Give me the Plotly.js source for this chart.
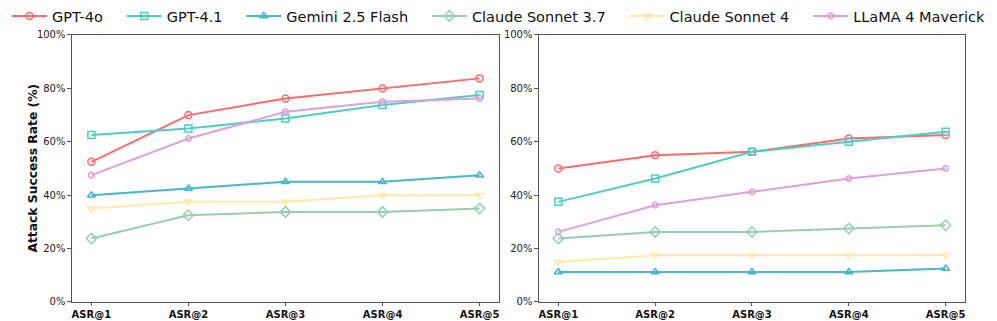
<!DOCTYPE html>
<html>
<head>
<meta charset="utf-8">
<script src="https://cdn.plot.ly/plotly-3.0.1.min.js"></script>
<style>
  html, body { margin: 0; padding: 0; background: #fff; }
  #chart { width: 997px; height: 321px; }
</style>
</head>
<body>
<div id="chart"></div>
<script>
// Attack success rate at k attempts, two settings side by side
const categories = ['ASR@1', 'ASR@2', 'ASR@3', 'ASR@4', 'ASR@5'];
const models = ['GPT-4o', 'GPT-4.1', 'Gemini 2.5 Flash', 'Claude Sonnet 3.7', 'Claude Sonnet 4', 'LLaMA 4 Maverick'];

// left panel
const leftGpt4o   = [52.5, 70, 76.25, 80, 83.75];
const leftGpt41   = [62.5, 65, 68.75, 73.75, 77.5];
const leftGemini  = [40, 42.5, 45, 45, 47.5];
const leftClaude37 = [23.75, 32.5, 33.75, 33.75, 35];
const leftClaude4 = [35, 37.5, 37.5, 40, 40];
const leftLlama   = [47.5, 61.25, 71.25, 75, 76.25];

// right panel
const rightGpt4o   = [50, 55, 56.25, 61.25, 62.5];
const rightGpt41   = [37.5, 46.25, 56.25, 60, 63.75];
const rightGemini  = [11.25, 11.25, 11.25, 11.25, 12.5];
const rightClaude37 = [23.75, 26.25, 26.25, 27.5, 28.75];
const rightClaude4 = [15, 17.5, 17.5, 17.5, 17.5];
const rightLlama   = [26.25, 36.25, 41.25, 46.25, 50];

const colors = ['#FF6B6B', '#4ECDC4', '#45B7D1', '#96CEB4', '#FFEAA7', '#DDA0DD'];
const symbols = ['circle-open', 'square-open', 'triangle-up-open', 'diamond-open', 'triangle-down-open', 'hexagon-open'];
const sizes = [7, 7, 7, 8, 7, 6];

const leftSeries = [leftGpt4o, leftGpt41, leftGemini, leftClaude37, leftClaude4, leftLlama];
const rightSeries = [rightGpt4o, rightGpt41, rightGemini, rightClaude37, rightClaude4, rightLlama];

// a bit of trailing space so the legend entries spread out like the original
const pad = '\u00A0\u00A0\u00A0';

const traces = [];
function addPanel(series, xa, ya, showLegend) {
    series.forEach((vals, i) => {
        traces.push({
            x: categories,
            y: vals,
            xaxis: xa,
            yaxis: ya,
            type: 'scatter',
            mode: 'lines+markers',
            name: i < models.length - 1 ? models[i] + pad : models[i],
            showlegend: showLegend,
            line: { color: colors[i], width: 2 },
            marker: {
                symbol: symbols[i],
                size: sizes[i],
                color: colors[i],
                line: { color: colors[i], width: 1.5 }
            }
        });
    });
}
addPanel(leftSeries, 'x', 'y', true);
addPanel(rightSeries, 'x2', 'y2', false);

const axisFont = { family: 'DejaVu Sans', size: 10, color: '#222' };
const xBase = {
    type: 'category',
    range: [-0.2, 4.2],
    showline: true, mirror: true, linecolor: '#555', linewidth: 1,
    showgrid: false, zeroline: false,
    ticks: 'outside', ticklen: 3.5, tickcolor: '#555',
    tickfont: { family: 'DejaVu Sans', size: 10, color: '#111', weight: 'bold' },
    automargin: false
};
const yBase = {
    range: [0, 100],
    tickvals: [0, 20, 40, 60, 80, 100],
    ticktext: ['0%', '20%', '40%', '60%', '80%', '100%'],
    showline: true, mirror: true, linecolor: '#555', linewidth: 1,
    showgrid: false, zeroline: false,
    ticks: 'outside', ticklen: 3.5, tickcolor: '#555',
    tickfont: axisFont,
    automargin: false
};

const layout = {
    width: 997,
    height: 321,
    margin: { l: 0, r: 0, t: 0, b: 0 },
    paper_bgcolor: '#fff',
    plot_bgcolor: '#fff',
    font: { family: 'DejaVu Sans', color: '#111' },
    showlegend: true,
    legend: {
        orientation: 'h',
        x: 0.5, xanchor: 'center',
        y: 1.0, yanchor: 'top',
        itemwidth: 35,
        font: { family: 'DejaVu Sans', size: 14.5, color: '#111' },
        bgcolor: 'rgba(0,0,0,0)'
    },
    xaxis: Object.assign({}, xBase, { domain: [0.0722, 0.5005], anchor: 'y' }),
    xaxis2: Object.assign({}, xBase, { domain: [0.5406, 0.9679], anchor: 'y2' }),
    yaxis: Object.assign({}, yBase, { domain: [0.0592, 0.891], anchor: 'x' }),
    yaxis2: Object.assign({}, yBase, { domain: [0.0592, 0.891], anchor: 'x2' }),
    annotations: [{
        text: 'Attack Success Rate (%)',
        xref: 'paper', yref: 'paper',
        x: 33 / 997, y: 0.475,
        xanchor: 'center', yanchor: 'middle',
        textangle: -90,
        showarrow: false,
        font: { family: 'DejaVu Sans', size: 12.3, color: '#111', weight: 'bold' }
    }]
};

Plotly.newPlot('chart', traces, layout, { displayModeBar: false, staticPlot: true });
</script>
</body>
</html>
